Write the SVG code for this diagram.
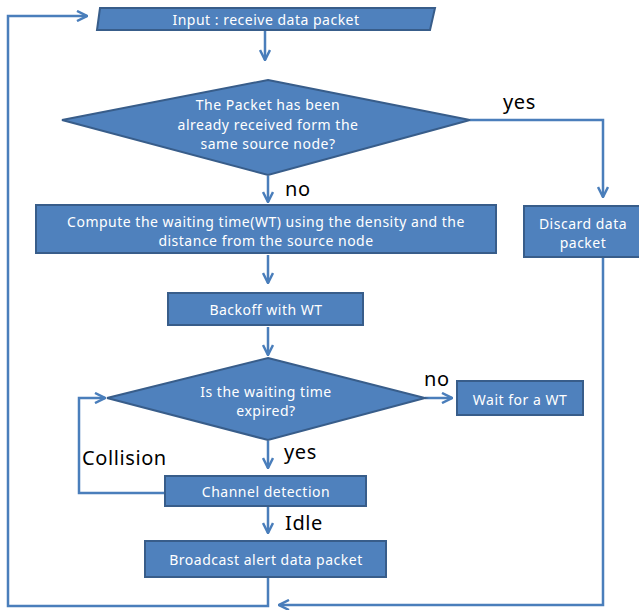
<svg xmlns="http://www.w3.org/2000/svg" width="639" height="610" viewBox="0 0 639 610">
<style>
.n{fill:#4f81bd;stroke:#385d8a;stroke-width:2}
.t{fill:#fff;font-family:"Noto Sans","Open Sans",sans-serif;font-size:14px;letter-spacing:0.5px;text-anchor:middle;dominant-baseline:central}
.l{fill:#000;font-family:"Noto Sans","Open Sans",sans-serif;font-size:20px;letter-spacing:0.6px}
.c{fill:none;stroke:#4a7ebb;stroke-width:2.5;marker-end:url(#a)}
</style>
<defs>
<marker id="a" viewBox="0 0 10 10" refX="9" refY="5" markerWidth="5" markerHeight="5" markerUnits="strokeWidth" orient="auto">
<path d="M1,1 L9,5 L1,9" fill="none" stroke="#4a7ebb" stroke-width="2"/>
</marker>
</defs>
<rect width="639" height="610" fill="#fff"/>
<g id="connectors">
<path class="c" d="M265,31 V60"/>
<path class="c" d="M470,120 H603 V197"/>
<path class="c" d="M268,176 V202"/>
<path class="c" d="M268,255 V283"/>
<path class="c" d="M268,327 V355"/>
<path class="c" d="M425,398 H452"/>
<path class="c" d="M268,441 V468"/>
<path class="c" d="M165,493 H79 V398 H105"/>
<path class="c" d="M268,507 V533"/>
<path class="c" d="M268,578 V606 H8 V16 H87"/>
<path class="c" d="M603,258 V605 H279"/>
</g>
<g id="input">
<polygon class="n" points="100,8 435,8 430,30 97,30"/>
<text class="t" x="266" y="19">Input : receive data packet</text>
</g>
<g id="decision1">
<polygon class="n" points="268,80 470,120 268,175 62,120"/>
<text class="t" x="268" y="104">The Packet has been</text>
<text class="t" x="268" y="124">already received form the</text>
<text class="t" x="268" y="143">same source node?</text>
</g>
<text class="l" x="503" y="109">yes</text>
<text class="l" x="285" y="196">no</text>
<g id="compute">
<rect class="n" x="36" y="205" width="460" height="48"/>
<text class="t" x="266" y="221">Compute the waiting time(WT) using the density and the</text>
<text class="t" x="266" y="240">distance from the source node</text>
</g>
<g id="discard">
<rect class="n" x="524" y="206" width="120" height="51"/>
<text class="t" x="583" y="223">Discard data</text>
<text class="t" x="583" y="242">packet</text>
</g>
<g id="backoff">
<rect class="n" x="168" y="293" width="195" height="32"/>
<text class="t" x="266" y="309">Backoff with WT</text>
</g>
<g id="decision2">
<polygon class="n" points="268,358 425,398 268,440 107,398"/>
<text class="t" x="266" y="391">Is the waiting time</text>
<text class="t" x="266" y="410">expired?</text>
</g>
<text class="l" x="424" y="386">no</text>
<g id="wait">
<rect class="n" x="457" y="381" width="126" height="34"/>
<text class="t" x="520" y="399">Wait for a WT</text>
</g>
<text class="l" x="284" y="459">yes</text>
<text class="l" x="82" y="465">Collision</text>
<g id="channel">
<rect class="n" x="165" y="476" width="201" height="30"/>
<text class="t" x="266" y="491">Channel detection</text>
</g>
<text class="l" x="285" y="530">Idle</text>
<g id="broadcast">
<rect class="n" x="145" y="541" width="241" height="36"/>
<text class="t" x="266" y="559">Broadcast alert data packet</text>
</g>
</svg>
